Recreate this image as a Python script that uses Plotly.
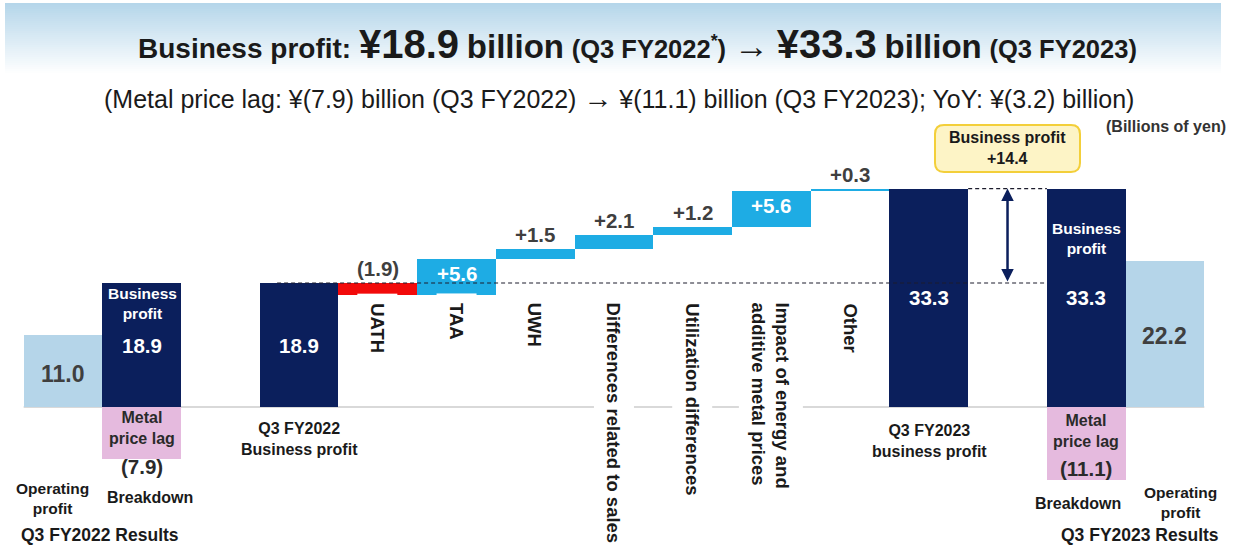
import plotly.graph_objects as go

W, H = 1239, 547

# ---------------- data (billions of yen) ----------------
fy22_operating_profit = 11.0
fy22_business_profit = 18.9
fy22_metal_price_lag = -7.9

bridge_start = 18.9
bridge_labels = ["UATH", "TAA", "UWH", "Differences related to sales",
                 "Utilization differences",
                 "Impact of energy and<br>additive metal prices", "Other"]
bridge_changes = [-1.9, 5.6, 1.5, 2.1, 1.2, 5.6, 0.3]
bridge_end = 33.3

fy23_business_profit = 33.3
fy23_metal_price_lag = -11.1
fy23_operating_profit = 22.2

business_profit_change = 14.4

# ---------------- styling ----------------
NAVY = "#0b1f5c"
OP_BLUE = "#b5d5e9"
CYAN = "#1eace4"
RED = "#f20a0a"
PINK = "#e5bade"
DARK = "#1a1a1a"
GRAY = "#3f3f3f"
FONT = "Liberation Sans, Arial, sans-serif"

# slot layout along the x axis
SLOT_PX = 78.71
FIRST_PX = 63
X_RANGE = [-FIRST_PX / SLOT_PX, (W - FIRST_PX) / SLOT_PX]
ZERO_PX = 407
UNIT_PX = 6.56
Y_RANGE = [-(H - ZERO_PX) / UNIT_PX, ZERO_PX / UNIT_PX]

fy22_slots = [0, 1]
start_slot = 3
bridge_slots = list(range(4, 4 + len(bridge_changes)))
end_slot = 11
arrow_slot = 12
fy23_slots = [13, 14]


def px(x):
    return x / W


def py(y):
    return 1 - y / H


def fmt_change(v):
    return f"+{v:.1f}" if v >= 0 else f"({abs(v):.1f})"


fig = go.Figure()

# operating profit bars (light blue)
fig.add_trace(go.Bar(
    x=[fy22_slots[0], fy23_slots[1]],
    y=[fy22_operating_profit, fy23_operating_profit],
    width=1.0, marker=dict(color=OP_BLUE, line_width=0), hoverinfo="skip"))

# business profit bars (navy)
fig.add_trace(go.Bar(
    x=[fy22_slots[1], start_slot, end_slot, fy23_slots[0]],
    y=[fy22_business_profit, bridge_start, bridge_end, fy23_business_profit],
    width=1.0, marker=dict(color=NAVY, line_width=0), hoverinfo="skip"))

# metal price lag bars (pink, below zero)
fig.add_trace(go.Bar(
    x=[fy22_slots[1], fy23_slots[0]],
    y=[fy22_metal_price_lag, fy23_metal_price_lag],
    width=1.0, marker=dict(color=PINK, line_width=0), hoverinfo="skip"))

# bridge steps
bases, tops = [], []
running = bridge_start
for c in bridge_changes:
    bases.append(running)
    running += c
    tops.append(max(bases[-1], running))
fig.add_trace(go.Bar(
    x=bridge_slots, y=bridge_changes, base=bases, width=1.0,
    marker=dict(color=[CYAN if c >= 0 else RED for c in bridge_changes], line_width=0),
    hoverinfo="skip"))

shapes = []
annotations = []

# title band gradient
band_top, band_bot = 3, 75
steps = 36
c0 = (181, 214, 234)
for i in range(steps):
    t = i / (steps - 1)
    r = round(c0[0] + (255 - c0[0]) * t)
    g = round(c0[1] + (255 - c0[1]) * t)
    b = round(c0[2] + (255 - c0[2]) * t)
    y0 = band_top + (band_bot - band_top) * i / steps
    y1 = band_top + (band_bot - band_top) * (i + 1) / steps + 0.6
    shapes.append(dict(type="rect", xref="paper", yref="paper",
                       x0=px(5), x1=px(1221), y0=py(y1), y1=py(y0),
                       fillcolor=f"rgb({r},{g},{b})", line_width=0, layer="below"))

# zero baseline
shapes.append(dict(type="line", xref="x", yref="y", x0=-0.5, x1=14.5, y0=0, y1=0,
                   line=dict(color="#d9d9d9", width=2), layer="below"))

# dashed reference lines
shapes.append(dict(type="line", xref="x", yref="y", x0=2.72, x1=12.5,
                   y0=bridge_start, y1=bridge_start,
                   line=dict(color="#1c1c2c", width=1.2, dash="4px,3px"), layer="above"))
shapes.append(dict(type="line", xref="x", yref="y", x0=11.5, x1=12.5,
                   y0=bridge_end, y1=bridge_end,
                   line=dict(color="#1c1c2c", width=1.2, dash="4px,3px"), layer="above"))


# rounded callout box
def rounded_rect(x0, y0, x1, y1, r):
    pts = [
        ("M", [(x0 + r, y0)]),
        ("L", [(x1 - r, y0)]), ("Q", [(x1, y0), (x1, y0 + r)]),
        ("L", [(x1, y1 - r)]), ("Q", [(x1, y1), (x1 - r, y1)]),
        ("L", [(x0 + r, y1)]), ("Q", [(x0, y1), (x0, y1 - r)]),
        ("L", [(x0, y0 + r)]), ("Q", [(x0, y0), (x0 + r, y0)]),
    ]
    out = []
    for cmd, ps in pts:
        out.append(cmd + " ".join(f"{px(a):.5f},{py(b):.5f}" for a, b in ps))
    return " ".join(out) + " Z"


shapes.append(dict(type="path", xref="paper", yref="paper",
                   path=rounded_rect(935, 125, 1080, 172, 9),
                   fillcolor="#fdf4c6", line=dict(color="#f3cf3a", width=2), layer="above"))


def text(x, y, s, size=16, color=DARK, bold=True, **kw):
    d = dict(xref="paper", yref="paper", x=px(x), y=py(y),
             text=f"<b>{s}</b>" if bold else s, showarrow=False,
             font=dict(size=size, color=color, family=FONT),
             xanchor="center", yanchor="middle")
    d.update(kw)
    annotations.append(d)


# title and subtitle
title = ("<b>Business profit: "
         f"<span style='font-size:40px'>¥{bridge_start:.1f}</span> "
         "<span style='font-size:33px'>billion</span> "
         "<span style='font-size:25.5px'>(Q3 FY2022<sup>*</sup>)</span> "
         "<span style='font-size:35px;font-weight:normal'>→</span> "
         f"<span style='font-size:40px'>¥{bridge_end:.1f}</span> "
         "<span style='font-size:33px'>billion</span> "
         "<span style='font-size:25.5px'>(Q3 FY2023)</span></b>")
annotations.append(dict(xref="paper", yref="paper", x=px(637), y=py(44), text=title,
                        showarrow=False, xanchor="center", yanchor="middle",
                        font=dict(size=28, color=DARK, family=FONT)))

lag_yoy = fy23_metal_price_lag - fy22_metal_price_lag
subtitle = (f"(Metal price lag: ¥({abs(fy22_metal_price_lag):.1f}) billion (Q3 FY2022) "
            "<span style='font-size:29px'>→</span> "
            f"¥({abs(fy23_metal_price_lag):.1f}) billion (Q3 FY2023); "
            f"YoY: ¥({abs(lag_yoy):.1f}) billion)")
text(619, 98, subtitle, size=25, color=DARK, bold=False)

text(1166, 127, "(Billions of yen)", size=16, color="#333333")
text(1007, 148, f"Business profit<br>+{business_profit_change:.1f}", size=16)

# FY2022 results block
annotations.append(dict(x=fy22_slots[0], y=fy22_operating_profit / 2 - 0.5, xref="x", yref="y",
                        text=f"<b>{fy22_operating_profit:.1f}</b>", showarrow=False,
                        font=dict(size=23, color=GRAY, family=FONT)))
text(142, 303, "Business<br>profit", size=15.5, color="white")
annotations.append(dict(x=fy22_slots[1], y=fy22_business_profit / 2, xref="x", yref="y",
                        text=f"<b>{fy22_business_profit:.1f}</b>", showarrow=False,
                        font=dict(size=20.5, color="white", family=FONT)))
text(142, 428, "Metal<br>price lag", size=16, color="#2a2a2a")
text(142, 466, f"({abs(fy22_metal_price_lag):.1f})", size=20.5, color="#2a2a2a")
text(52, 498, "Operating<br>profit", size=15.5)
text(150, 497, "Breakdown", size=16)
text(100, 535, "Q3 FY2022 Results", size=17.5)

# bridge start / end bars
annotations.append(dict(x=start_slot, y=bridge_start / 2, xref="x", yref="y",
                        text=f"<b>{bridge_start:.1f}</b>", showarrow=False,
                        font=dict(size=20.5, color="white", family=FONT)))
text(299, 439, "Q3 FY2022<br>Business profit", size=16)
annotations.append(dict(x=end_slot, y=bridge_end / 2, xref="x", yref="y",
                        text=f"<b>{bridge_end:.1f}</b>", showarrow=False,
                        font=dict(size=20.5, color="white", family=FONT)))
text(929, 441, "Q3 FY2023<br>business profit", size=16)

# bridge step values and category labels
for s, c, b, top, lab in zip(bridge_slots, bridge_changes, bases, tops, bridge_labels):
    inside = abs(c) >= 3
    annotations.append(dict(
        x=s, y=top, xref="x", yref="y", text=f"<b>{fmt_change(c)}</b>", showarrow=False,
        xanchor="center", yanchor="top" if inside else "bottom",
        yshift=-1 if inside else 1,
        font=dict(size=20.5, color="white" if inside else GRAY, family=FONT)))
    pad = 9
    annotations.append(dict(
        x=s, y=py(302 - pad), xref="x", yref="paper", text=f"<b>{lab}</b>",
        showarrow=False, textangle=90, xanchor="center", yanchor="top", align="left",
        bgcolor="white", borderpad=pad,
        font=dict(size=18.5, color=DARK, family=FONT)))

# change arrow between the two business profit levels
annotations.append(dict(x=arrow_slot, y=bridge_end, ax=arrow_slot, ay=bridge_start,
                        xref="x", yref="y", axref="x", ayref="y", text="",
                        showarrow=True, arrowhead=2, arrowside="end+start",
                        arrowsize=1, arrowwidth=2.5, arrowcolor=NAVY,
                        standoff=0, startstandoff=0))

# FY2023 results block
text(1086, 239, "Business<br>profit", size=15.5, color="white")
annotations.append(dict(x=fy23_slots[0], y=fy23_business_profit / 2, xref="x", yref="y",
                        text=f"<b>{fy23_business_profit:.1f}</b>", showarrow=False,
                        font=dict(size=20.5, color="white", family=FONT)))
text(1086, 431, "Metal<br>price lag", size=16, color="#2a2a2a")
text(1086, 468, f"({abs(fy23_metal_price_lag):.1f})", size=20.5, color="#2a2a2a")
annotations.append(dict(x=fy23_slots[1], y=fy23_operating_profit / 2 - 0.3, xref="x", yref="y",
                        text=f"<b>{fy23_operating_profit:.1f}</b>", showarrow=False,
                        font=dict(size=23, color=GRAY, family=FONT)))
text(1078, 503, "Breakdown", size=16)
text(1180, 502, "Operating<br>profit", size=15.5)
text(1140, 535, "Q3 FY2023 Results", size=17.5)

fig.update_layout(
    width=W, height=H,
    margin=dict(l=0, r=0, t=0, b=0),
    paper_bgcolor="white", plot_bgcolor="rgba(0,0,0,0)",
    showlegend=False, barmode="overlay", bargap=0,
    font=dict(family=FONT, color=DARK),
    xaxis=dict(range=X_RANGE, visible=False, fixedrange=True),
    yaxis=dict(range=Y_RANGE, visible=False, fixedrange=True),
    shapes=shapes, annotations=annotations,
)

fig.write_html("out.html")
